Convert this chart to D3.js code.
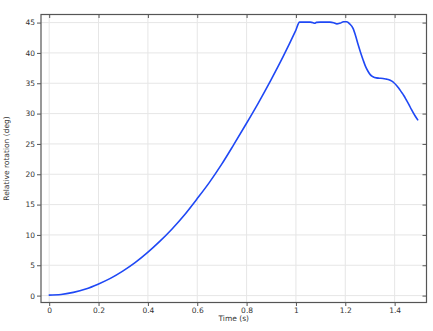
<!DOCTYPE html>
<html>
<head>
<meta charset="utf-8">
<script src="https://cdn.jsdelivr.net/npm/d3@7"></script>
<style>
  html, body { margin: 0; padding: 0; background: #fff; }
  svg { display: block; }
</style>
</head>
<body>
<div class="chart"></div>
<script>
// time (s) and relative rotation (deg)
let time = [
  0, 0.05, 0.1, 0.15, 0.2, 0.25, 0.3, 0.35, 0.4, 0.45, 0.5, 0.55, 0.6, 0.65,
  0.7, 0.75, 0.8, 0.85, 0.9, 0.95, 1.0, 1.017, 1.04, 1.06, 1.072, 1.078,
  1.085, 1.1, 1.12, 1.14, 1.155, 1.168, 1.18, 1.195, 1.208, 1.22, 1.233,
  1.245, 1.254, 1.264, 1.274, 1.284, 1.294, 1.304, 1.314, 1.328, 1.341,
  1.355, 1.368, 1.379, 1.389, 1.399, 1.409, 1.419, 1.429, 1.439, 1.449,
  1.46, 1.47, 1.484, 1.497
];
let rotation = [
  0, 0.1, 0.45, 1.0, 1.8, 2.75, 3.95, 5.35, 7.0, 8.85, 10.9, 13.2, 15.8, 18.5,
  21.5, 24.8, 28.2, 31.7, 35.4, 39.3, 43.5, 45.0, 45.0, 45.0, 44.9, 44.8,
  44.95, 45.0, 45.0, 45.0, 44.9, 44.7, 44.8, 45.05, 45.05, 44.7, 44.0,
  42.6, 41.3, 40.0, 38.8, 37.7, 36.9, 36.3, 36.0, 35.8, 35.75,
  35.7, 35.6, 35.5, 35.3, 35.0, 34.6, 34.1, 33.5, 32.9, 32.2,
  31.4, 30.6, 29.6, 28.8
];
let xTicks = [0, 0.2, 0.4, 0.6, 0.8, 1, 1.2, 1.4];
let yTicks = [0, 5, 10, 15, 20, 25, 30, 35, 40, 45];
let xLabel = 'Time (s)';
let yLabel = 'Relative rotation (deg)';

let width = 433, height = 331;
let margin = {top: 14.5, right: 6.5, bottom: 28.5, left: 41};
let font = '"DejaVu Sans", Verdana, sans-serif';
let textColor = '#333';
let frameColor = '#555';
let gridColor = '#e6e6e6';

let svg = d3.select('div.chart').append('svg')
  .attr('width', width)
  .attr('height', height);

let x = d3.scaleLinear()
  .domain([-0.0312, 1.5312])
  .range([margin.left, width - margin.right]);

let y = d3.scaleLinear()
  .domain([-1.22, 46.25])
  .range([height - margin.bottom, margin.top]);

// grid
svg.append('g')
  .selectAll('line')
  .data(xTicks)
  .enter().append('line')
  .attr('x1', (d) => x(d) + 0.5).attr('x2', (d) => x(d) + 0.5)
  .attr('y1', margin.top).attr('y2', height - margin.bottom)
  .attr('stroke', gridColor);

svg.append('g')
  .selectAll('line')
  .data(yTicks)
  .enter().append('line')
  .attr('y1', (d) => y(d) + 0.5).attr('y2', (d) => y(d) + 0.5)
  .attr('x1', margin.left).attr('x2', width - margin.right)
  .attr('stroke', gridColor);

// axes: outward ticks bottom/left, inward ticks top/right
function styleAxis(g) {
  g.select('.domain').remove();
  g.selectAll('line').attr('stroke', frameColor);
  g.selectAll('text')
    .attr('fill', textColor)
    .attr('font-family', font)
    .attr('font-size', '7.5px');
}

svg.append('g')
  .attr('transform', `translate(0.5,${height - margin.bottom})`)
  .call(d3.axisBottom(x).tickValues(xTicks).tickSize(3.5).tickPadding(1.5).tickFormat(d3.format('')))
  .call(styleAxis);

svg.append('g')
  .attr('transform', `translate(0.5,${margin.top})`)
  .call(d3.axisTop(x).tickValues(xTicks).tickSize(-3.5).tickFormat(''))
  .call(styleAxis);

svg.append('g')
  .attr('transform', `translate(${margin.left},0.5)`)
  .call(d3.axisLeft(y).tickValues(yTicks).tickSize(4).tickPadding(2))
  .call(styleAxis);

svg.append('g')
  .attr('transform', `translate(${width - margin.right},0.5)`)
  .call(d3.axisRight(y).tickValues(yTicks).tickSize(-4).tickFormat(''))
  .call(styleAxis);

// frame
svg.append('rect')
  .attr('x', margin.left)
  .attr('y', margin.top)
  .attr('width', width - margin.left - margin.right)
  .attr('height', height - margin.top - margin.bottom)
  .attr('fill', 'none')
  .attr('stroke', frameColor)
  .attr('stroke-width', 1.2);

// curve
let points = time.map((t, i) => [t, rotation[i]]);
let line = d3.line()
  .x((d) => x(d[0]))
  .y((d) => y(d[1]))
  .curve(d3.curveMonotoneX);

svg.append('path')
  .datum(points)
  .attr('d', line)
  .attr('fill', 'none')
  .attr('stroke', '#1f48f5')
  .attr('stroke-width', 1.6)
  .attr('stroke-linejoin', 'round');

// axis titles
svg.append('text')
  .text(xLabel)
  .attr('x', x(0.75))
  .attr('y', 320.5)
  .attr('text-anchor', 'middle')
  .attr('font-family', font)
  .attr('font-size', '7.5px')
  .attr('fill', textColor);

svg.append('text')
  .text(yLabel)
  .attr('transform', `translate(9,${(margin.top + height - margin.bottom) / 2}) rotate(-90)`)
  .attr('text-anchor', 'middle')
  .attr('font-family', font)
  .attr('font-size', '7.5px')
  .attr('fill', textColor);
</script>
</body>
</html>
